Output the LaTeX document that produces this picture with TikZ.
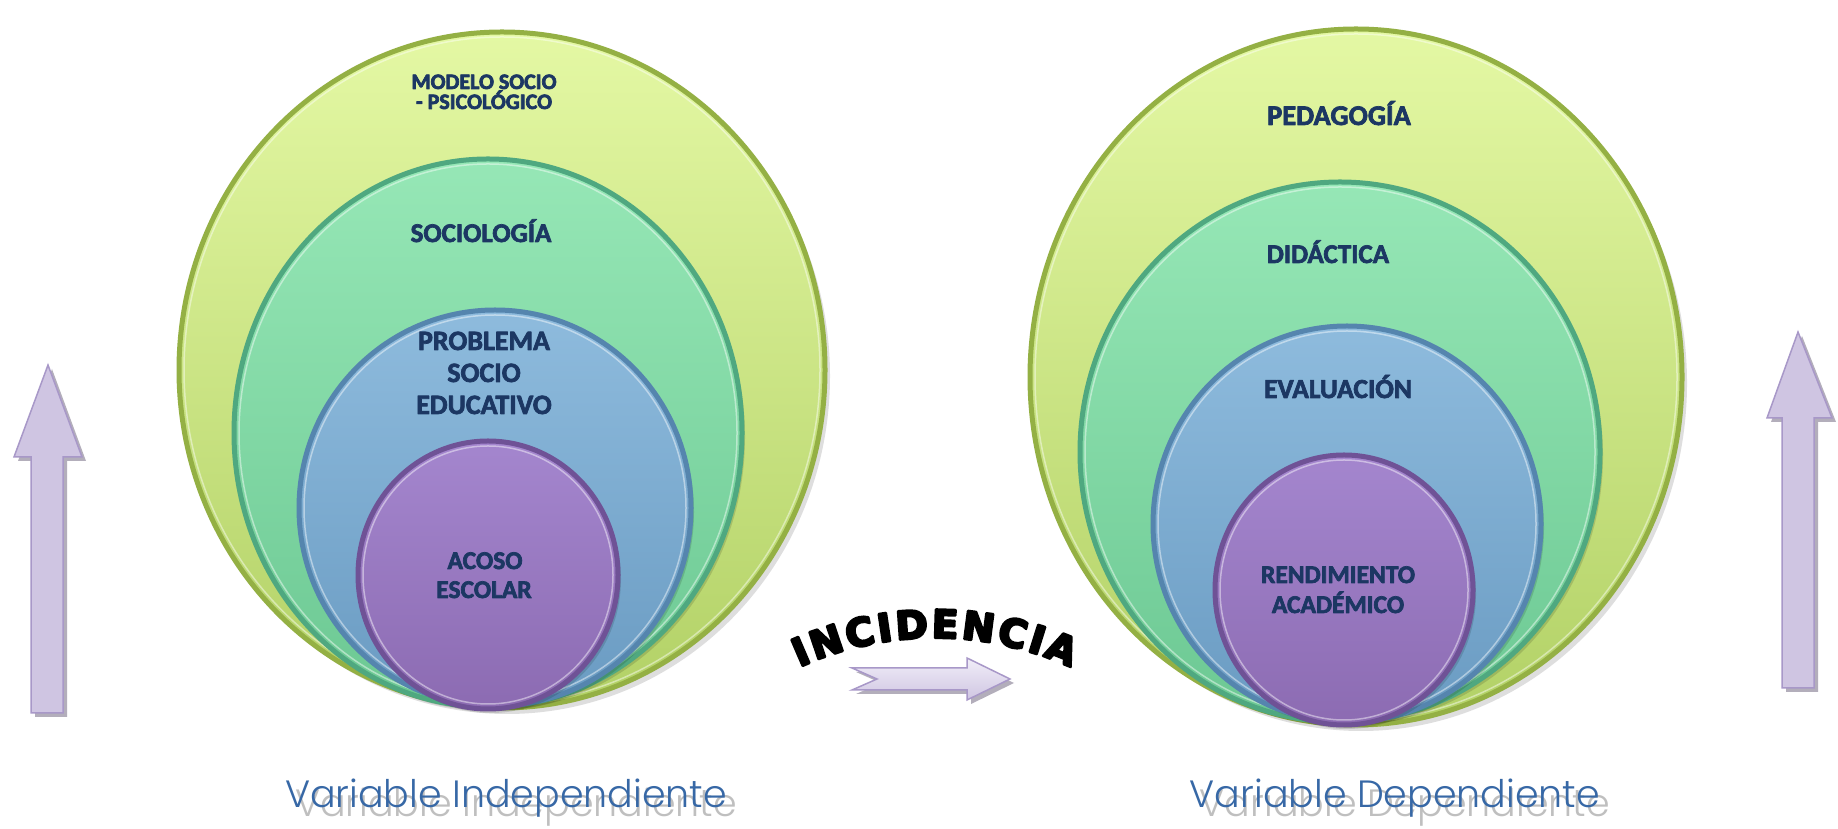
\documentclass[tikz,border=0pt]{standalone}
\usepackage{fontspec}
\usepackage{graphicx}
\usetikzlibrary{shapes.geometric,decorations.text}
\newfontfamily\lblfont{Carlito Bold}
\IfFontExistsTF{Poppins Light}{\newfontfamily\varfont{Poppins Light}}{\newfontfamily\varfont{Poppins}}
\newfontfamily\incfont{DejaVu Sans Bold}
\newcommand\heavyinc{\special{pdf:literal direct 2 Tr 2.4 w 1 j}}
\newcommand\heavylbl{\special{pdf:literal direct 2 Tr 0.7 w 1 j}}
\definecolor{lblc}{HTML}{1C3763}
\definecolor{varc}{HTML}{3768A6}
\definecolor{yg1}{HTML}{E4F8A4}
\definecolor{yg2}{HTML}{B2D166}
\definecolor{ygr}{HTML}{94B044}
\definecolor{gr1}{HTML}{96E7B6}
\definecolor{gr2}{HTML}{6CC893}
\definecolor{grr}{HTML}{4FA880}
\definecolor{bl1}{HTML}{8EBBDD}
\definecolor{bl2}{HTML}{6A9BC2}
\definecolor{blr}{HTML}{5585AE}
\definecolor{pu1}{HTML}{A486CE}
\definecolor{pu2}{HTML}{8C6BB2}
\definecolor{pur}{HTML}{6F5296}
\definecolor{ar1}{HTML}{F1EEF8}
\definecolor{ar2}{HTML}{CFC5E2}
\definecolor{arr}{HTML}{A898C8}
\definecolor{shd}{HTML}{A09AAA}
\tikzset{
  ring/.style n args={3}{ellipse, inner sep=0pt, outer sep=0pt, top color=#1, bottom color=#2, draw=#3, line width=5pt},
  hl/.style={line width=1.5pt, draw=white, opacity=0.45},
  ringshadow/.style={fill=black, opacity=0.13},
  lbl/.style={text=lblc, anchor=base, inner sep=0pt, outer sep=0pt},
  vartext/.style={font=\varfont\fontsize{38}{38}\selectfont, anchor=base, inner sep=0pt},
  arrowshape/.style={left color=ar2, middle color=ar1, right color=ar2, draw=arr, line width=1.5pt, line join=miter},
  harrowshape/.style={top color=ar1, bottom color=ar2, draw=arr, line width=1.5pt, line join=miter},
  arrowshadow/.style={fill=shd, opacity=0.8},
}
\newcommand\mylbl[4]{%
  \node[lbl, font=\lblfont\fontsize{#3}{#3}\selectfont] (#1) at (#2) {\heavylbl #4};
}
\begin{document}
\begin{tikzpicture}[x=1pt,y=1pt]
\fill[white] (0,0) rectangle (1838,829);
\useasboundingbox (0,0) rectangle (1838,829);

% ---------- left group ----------
\fill[ringshadow] (507,453) ellipse [x radius=323, y radius=338];
\node[ring={yg1}{yg2}{ygr}, minimum width=646pt, minimum height=676pt] (outerL) at (502,459) {};
\draw[hl] (502,459) ellipse [x radius=318, y radius=333];
\fill[ringshadow] (491,392) ellipse [x radius=254, y radius=274];
\node[ring={gr1}{gr2}{grr}, minimum width=508pt, minimum height=548pt] (greenL) at (488,396) {};
\draw[hl] (488,396) ellipse [x radius=249, y radius=269];
\fill[ringshadow] (498,317) ellipse [x radius=196, y radius=198];
\node[ring={bl1}{bl2}{blr}, minimum width=392pt, minimum height=396pt] (blueL) at (495,321) {};
\draw[hl] (495,321) ellipse [x radius=191, y radius=193];
\fill[ringshadow] (491,250) ellipse [x radius=130, y radius=134];
\node[ring={pu1}{pu2}{pur}, minimum width=260pt, minimum height=268pt] (purpleL) at (488,254) {};
\draw[hl] (488,254) ellipse [x radius=125, y radius=129];

\mylbl{modelo}{484,740}{22}{MODELO SOCIO}
\mylbl{psico}{484,720}{22}{- PSICOLÓGICO}
\mylbl{socio}{481,587}{27}{SOCIOLOGÍA}
\mylbl{prob}{484,479}{28}{PROBLEMA}
\mylbl{prob2}{484,447}{28}{SOCIO}
\mylbl{prob3}{484,415}{28}{EDUCATIVO}
\mylbl{acoso}{485,260}{25.5}{ACOSO}
\mylbl{acoso2}{484,231}{25.5}{ESCOLAR}

% ---------- right group ----------
\fill[ringshadow] (1361,446) ellipse [x radius=326, y radius=348];
\node[ring={yg1}{yg2}{ygr}, minimum width=652pt, minimum height=696pt] (outerR) at (1356,452) {};
\draw[hl] (1356,452) ellipse [x radius=321, y radius=343];
\fill[ringshadow] (1343,373) ellipse [x radius=260, y radius=270];
\node[ring={gr1}{gr2}{grr}, minimum width=520pt, minimum height=540pt] (greenR) at (1340,377) {};
\draw[hl] (1340,377) ellipse [x radius=255, y radius=265];
\fill[ringshadow] (1350,301) ellipse [x radius=194, y radius=198];
\node[ring={bl1}{bl2}{blr}, minimum width=388pt, minimum height=396pt] (blueR) at (1347,305) {};
\draw[hl] (1347,305) ellipse [x radius=189, y radius=193];
\fill[ringshadow] (1347,235) ellipse [x radius=129, y radius=135];
\node[ring={pu1}{pu2}{pur}, minimum width=258pt, minimum height=270pt] (purpleR) at (1344,239) {};
\draw[hl] (1344,239) ellipse [x radius=124, y radius=130];

\mylbl{peda}{1339,704}{28.5}{PEDAGOGÍA}
\mylbl{dida}{1328,566}{27}{DIDÁCTICA}
\mylbl{eval}{1338,431}{27.5}{EVALUACIÓN}
\mylbl{rend}{1338,246}{25.5}{RENDIMIENTO}
\mylbl{rend2}{1338,216}{25.5}{ACADÉMICO}

% ---------- vertical arrows ----------
\fill[arrowshadow] (35,112) -- (35,368) -- (18,368) -- (52,460) -- (86,368) -- (67,368) -- (67,112) -- cycle;
\draw[arrowshape] (31,116) -- (31,372) -- (14,372) -- (48,464) -- (82,372) -- (63,372) -- (63,116) -- cycle;
\fill[arrowshadow] (1786,137) -- (1786,407) -- (1771,407) -- (1802,493) -- (1836,407) -- (1818,407) -- (1818,137) -- cycle;
\draw[arrowshape] (1782,141) -- (1782,411) -- (1767,411) -- (1798,497) -- (1832,411) -- (1814,411) -- (1814,141) -- cycle;

% ---------- incidencia ----------
\fill[arrowshadow] (856,135) -- (971,135) -- (971,125) -- (1014,146) -- (971,167) -- (971,157) -- (856,157) -- (881,146) -- cycle;
\draw[harrowshape] (852,139) -- (967,139) -- (967,129) -- (1010,150) -- (967,171) -- (967,161) -- (852,161) -- (877,150) -- cycle;
\path[decorate, decoration={text along path, text={|\incfont\fontsize{39}{39}\selectfont\heavyinc|INCIDENCIA}, text align={fit to path}}]
  (799.4,161.6) arc[start angle=114.5, end angle=65.5, radius=327];

% ---------- bottom captions ----------
\node[vartext, text=black!25] at (516,12) {Variable Independiente};
\node[vartext, text=varc] (vind) at (506,21) {Variable Independiente};
\node[vartext, text=black!25] at (1405,12) {Variable Dependiente};
\node[vartext, text=varc] (vdep) at (1395,21) {Variable Dependiente};
\end{tikzpicture}
\end{document}
